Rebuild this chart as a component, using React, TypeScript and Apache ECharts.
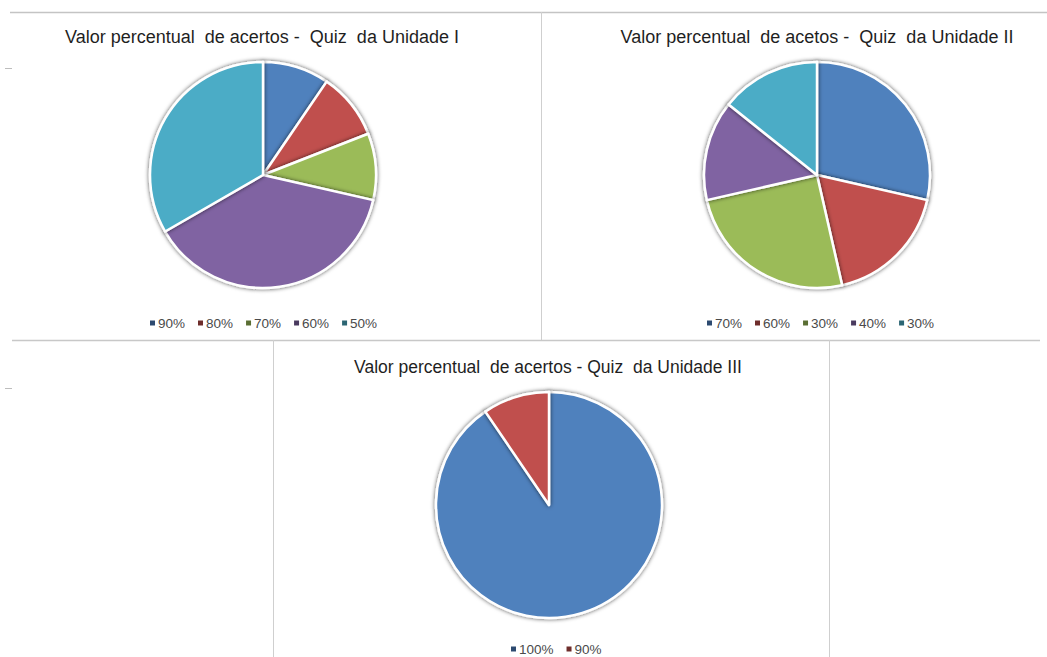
import React, { useEffect, useRef } from "react";
import * as echarts from "echarts";

const titles = [
  "Valor percentual  de acertos -  Quiz  da Unidade I",
  "Valor percentual  de acetos -  Quiz  da Unidade II",
  "Valor percentual  de acertos - Quiz  da Unidade III",
];

const labels1 = ["90%", "80%", "70%", "60%", "50%"];
const values1 = [2, 2, 2, 8, 7];

const labels2 = ["70%", "60%", "30%", "40%", "30%"];
const values2 = [8, 5, 7, 4, 4];

const labels3 = ["100%", "90%"];
const values3 = [19, 2];

const palette = ["#4F81BD", "#C0504D", "#9BBB59", "#8064A2", "#4BACC6"];
const markerColors = ["#2c4a70", "#6e2d2b", "#5a6e33", "#4a3a5f", "#2b6573"];

const ZW = "\u200b";

export default function App() {
  const ref = useRef<HTMLDivElement>(null);
  useEffect(() => {
    if (!ref.current) return;
    const chart = echarts.init(ref.current, undefined, { renderer: "svg" });

    const pies = [
      { labels: labels1, values: values1, cx: 263, cy: 175, tx: 257, ty: 23, lx: 145, ly: 311 },
      { labels: labels2, values: values2, cx: 817, cy: 175, tx: 812, ty: 23, lx: 702, ly: 311 },
      { labels: labels3, values: values3, cx: 549, cy: 505, tx: 543, ty: 353, lx: 506, ly: 637 },
    ];

    const mkName = (lab: string, p: number, i: number) => lab + ZW.repeat(p * 6 + i + 1);

    const series = pies.map((p, pi) => ({
      type: "pie",
      center: [p.cx, p.cy],
      radius: [0, 113],
      startAngle: 90,
      clockwise: true,
      label: { show: false },
      labelLine: { show: false },
      silent: true,
      itemStyle: {
        borderColor: "#ffffff",
        borderWidth: 2.5,
        shadowColor: "rgba(0,0,0,0.7)",
        shadowBlur: 4,
      },
      data: p.values.map((v, i) => ({
        name: mkName(p.labels[i], pi, i),
        value: v,
        itemStyle: { color: palette[i] },
      })),
    }));

    const legend = pies.map((p, pi) => ({
      data: p.labels.map((l, i) => ({
        name: mkName(l, pi, i),
        itemStyle: { color: markerColors[i], borderWidth: 0, shadowBlur: 0 },
      })),
      left: p.lx,
      top: p.ly,
      orient: "horizontal",
      icon: "rect",
      itemWidth: 5,
      itemHeight: 5,
      itemGap: 13,
      selectedMode: false,
      textStyle: { fontSize: 13.5, color: "#4a4a4a", fontFamily: "Liberation Sans, Arial, sans-serif", padding: [0, 0, 0, -2] },
      formatter: (n: string) => n.replace(/\u200b/g, ""),
    }));

    const title = pies.map((p, pi) => ({
      text: titles[pi],
      left: p.tx,
      top: p.ty,
      textAlign: "center",
      textStyle: {
        fontSize: pi === 2 ? 17.5 : 18,
        fontWeight: "normal",
        color: "#1f1f1f",
        fontFamily: "Liberation Sans, Arial, sans-serif",
      },
    }));

    const lineStyle = { stroke: "#cfcfcf", lineWidth: 1 };
    const graphic = [
      { type: "line", shape: { x1: 10, y1: 12.5, x2: 1047, y2: 12.5 }, style: { stroke: "#c4c4c4", lineWidth: 1.5 } },
      { type: "line", shape: { x1: 541.5, y1: 12, x2: 541.5, y2: 340 }, style: lineStyle },
      { type: "line", shape: { x1: 12, y1: 340.5, x2: 1040, y2: 340.5 }, style: { stroke: "#c8c8c8", lineWidth: 1.5 } },
      { type: "line", shape: { x1: 273.5, y1: 340, x2: 273.5, y2: 657 }, style: lineStyle },
      { type: "line", shape: { x1: 829.5, y1: 340, x2: 829.5, y2: 657 }, style: lineStyle },
      { type: "line", shape: { x1: 5, y1: 68.5, x2: 12, y2: 68.5 }, style: { stroke: "#bdbdbd", lineWidth: 1 } },
      { type: "line", shape: { x1: 5, y1: 388.5, x2: 12, y2: 388.5 }, style: { stroke: "#bdbdbd", lineWidth: 1 } },
    ];

    chart.setOption({
      animation: false,
      backgroundColor: "#ffffff",
      title,
      legend,
      series,
      graphic,
    } as any);

    return () => chart.dispose();
  }, []);

  return (
    <div
      ref={ref}
      style={{ position: "fixed", left: 0, top: 0, width: 1047, height: 657, background: "#fff" }}
    />
  );
}
